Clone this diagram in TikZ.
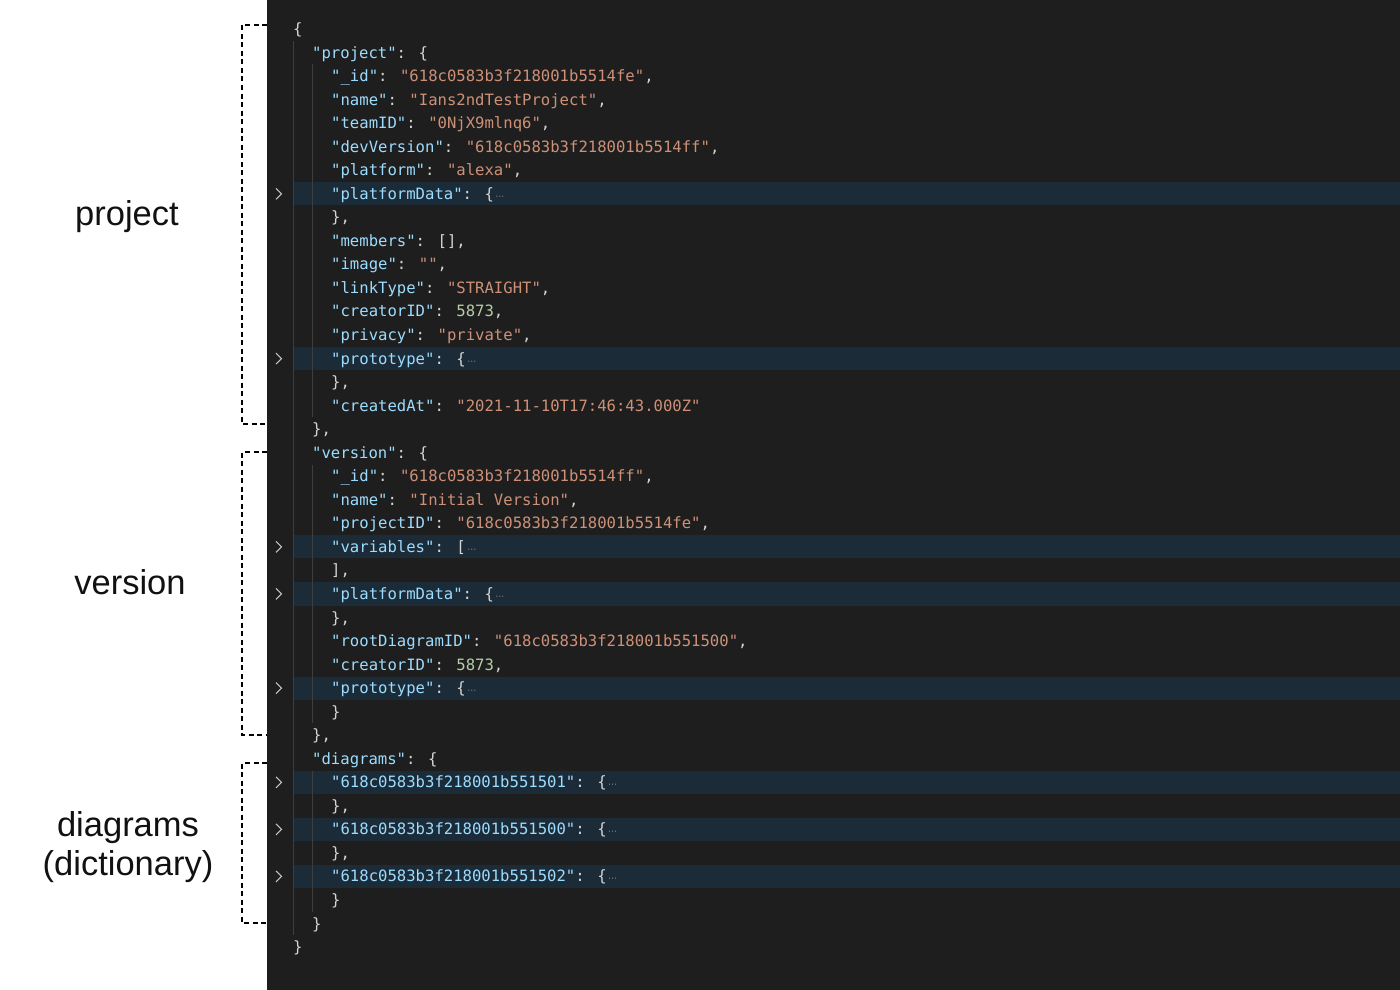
\documentclass[tikz,border=0pt]{standalone}
\usepackage{fontspec}
\setmainfont{Liberation Sans}
\newfontfamily\codefont{DejaVu Sans Mono}
\newfontfamily\dvs{DejaVu Sans}
\definecolor{bgdark}{HTML}{1E1E1E}
\definecolor{hlrow}{HTML}{1C2B38}
\definecolor{guide}{HTML}{3E3E3E}
\definecolor{keyc}{HTML}{9CDCFE}
\definecolor{strc}{HTML}{CE9178}
\definecolor{numc}{HTML}{B5CEA8}
\definecolor{punc}{HTML}{D4D4D4}
\definecolor{ellc}{HTML}{8C8C8C}
\definecolor{chev}{HTML}{C5C5C5}
\definecolor{labc}{HTML}{111111}
\newcommand\jk[1]{\textcolor{keyc}{#1}}
\newcommand\js[1]{\textcolor{strc}{#1}}
\newcommand\jn[1]{\textcolor{numc}{#1}}
\newcommand\jell{\hspace{1.5pt}{\dvs\fontsize{9}{9}\selectfont\textcolor{ellc}{⋯}}}
\tikzset{
  codeline/.style={anchor=base west, inner sep=0pt, text=punc,
    font=\codefont\fontsize{15.6}{18}\selectfont},
  sidelabel/.style={anchor=base, inner sep=0pt, text=labc,
    font=\fontsize{34.5}{40}\selectfont},
  bracket/.style={line width=2.8pt, dash pattern=on 5pt off 3.5pt, draw=black},
  hlband/.style={fill=hlrow, draw=none},
  chevline/.style={draw=chev, line width=1.1pt},
  guideline/.style={draw=guide, line width=0.9pt}
}
\begin{document}
\begin{tikzpicture}[x=1pt,y=-1pt]
\useasboundingbox (0,0) rectangle (1400,990);
% panels
\fill[white] (0,0) rectangle (267,990);
\fill[bgdark] (267,0) rectangle (1400,990);
% highlighted rows and chevrons
\foreach \i in {7,14,22,24,28,32,34,36}{
  \fill[hlband] (293,{29+23.54*\i-11.6}) rectangle (1400,{29+23.54*\i+11.6});
  \draw[chevline] (276,{29+23.54*\i-5.5}) -- (281.5,{29+23.54*\i}) -- (276,{29+23.54*\i+5.5});
}
% indent guides
\draw[guideline] (293.5,{29+23.54*1-11.7}) -- (293.5,{29+23.54*38+11.7});
\draw[guideline] (312.5,{29+23.54*2-11.7}) -- (312.5,{29+23.54*16+11.7});
\draw[guideline] (312.5,{29+23.54*19-11.7}) -- (312.5,{29+23.54*29+11.7});
\draw[guideline] (312.5,{29+23.54*32-11.7}) -- (312.5,{29+23.54*37+11.7});
% code lines
\node[codeline] (l0) at (293,{34.5+23.54*0}) {\{};
\node[codeline] (l1) at (312,{34.5+23.54*1}) {\jk{"project"}: \{};
\node[codeline] (l2) at (331,{34.5+23.54*2}) {\jk{"\_id"}: \js{"618c0583b3f218001b5514fe"},};
\node[codeline] (l3) at (331,{34.5+23.54*3}) {\jk{"name"}: \js{"Ians2ndTestProject"},};
\node[codeline] (l4) at (331,{34.5+23.54*4}) {\jk{"teamID"}: \js{"0NjX9mlnq6"},};
\node[codeline] (l5) at (331,{34.5+23.54*5}) {\jk{"devVersion"}: \js{"618c0583b3f218001b5514ff"},};
\node[codeline] (l6) at (331,{34.5+23.54*6}) {\jk{"platform"}: \js{"alexa"},};
\node[codeline] (l7) at (331,{34.5+23.54*7}) {\jk{"platformData"}: \{\jell};
\node[codeline] (l8) at (331,{34.5+23.54*8}) {\},};
\node[codeline] (l9) at (331,{34.5+23.54*9}) {\jk{"members"}: [],};
\node[codeline] (l10) at (331,{34.5+23.54*10}) {\jk{"image"}: \js{""},};
\node[codeline] (l11) at (331,{34.5+23.54*11}) {\jk{"linkType"}: \js{"STRAIGHT"},};
\node[codeline] (l12) at (331,{34.5+23.54*12}) {\jk{"creatorID"}: \jn{5873},};
\node[codeline] (l13) at (331,{34.5+23.54*13}) {\jk{"privacy"}: \js{"private"},};
\node[codeline] (l14) at (331,{34.5+23.54*14}) {\jk{"prototype"}: \{\jell};
\node[codeline] (l15) at (331,{34.5+23.54*15}) {\},};
\node[codeline] (l16) at (331,{34.5+23.54*16}) {\jk{"createdAt"}: \js{"2021-11-10T17:46:43.000Z"}};
\node[codeline] (l17) at (312,{34.5+23.54*17}) {\},};
\node[codeline] (l18) at (312,{34.5+23.54*18}) {\jk{"version"}: \{};
\node[codeline] (l19) at (331,{34.5+23.54*19}) {\jk{"\_id"}: \js{"618c0583b3f218001b5514ff"},};
\node[codeline] (l20) at (331,{34.5+23.54*20}) {\jk{"name"}: \js{"Initial Version"},};
\node[codeline] (l21) at (331,{34.5+23.54*21}) {\jk{"projectID"}: \js{"618c0583b3f218001b5514fe"},};
\node[codeline] (l22) at (331,{34.5+23.54*22}) {\jk{"variables"}: [\jell};
\node[codeline] (l23) at (331,{34.5+23.54*23}) {],};
\node[codeline] (l24) at (331,{34.5+23.54*24}) {\jk{"platformData"}: \{\jell};
\node[codeline] (l25) at (331,{34.5+23.54*25}) {\},};
\node[codeline] (l26) at (331,{34.5+23.54*26}) {\jk{"rootDiagramID"}: \js{"618c0583b3f218001b551500"},};
\node[codeline] (l27) at (331,{34.5+23.54*27}) {\jk{"creatorID"}: \jn{5873},};
\node[codeline] (l28) at (331,{34.5+23.54*28}) {\jk{"prototype"}: \{\jell};
\node[codeline] (l29) at (331,{34.5+23.54*29}) {\}};
\node[codeline] (l30) at (312,{34.5+23.54*30}) {\},};
\node[codeline] (l31) at (312,{34.5+23.54*31}) {\jk{"diagrams"}: \{};
\node[codeline] (l32) at (331,{34.5+23.54*32}) {\jk{"618c0583b3f218001b551501"}: \{\jell};
\node[codeline] (l33) at (331,{34.5+23.54*33}) {\},};
\node[codeline] (l34) at (331,{34.5+23.54*34}) {\jk{"618c0583b3f218001b551500"}: \{\jell};
\node[codeline] (l35) at (331,{34.5+23.54*35}) {\},};
\node[codeline] (l36) at (331,{34.5+23.54*36}) {\jk{"618c0583b3f218001b551502"}: \{\jell};
\node[codeline] (l37) at (331,{34.5+23.54*37}) {\}};
\node[codeline] (l38) at (312,{34.5+23.54*38}) {\}};
\node[codeline] (l39) at (293,{34.5+23.54*39}) {\}};
% dashed brackets
\draw[bracket] (267,25) -- (242,25) -- (242,424) -- (267,424);
\draw[bracket] (267,452) -- (242,452) -- (242,735) -- (267,735);
\draw[bracket] (267,763) -- (242,763) -- (242,923) -- (267,923);
% side labels
\node[sidelabel] (lproj) at (127,225) {project};
\node[sidelabel] (lver) at (130,594) {version};
\node[sidelabel] (ldiag) at (128,836) {diagrams};
\node[sidelabel] (ldict) at (128,875) {(dictionary)};
\end{tikzpicture}
\end{document}
